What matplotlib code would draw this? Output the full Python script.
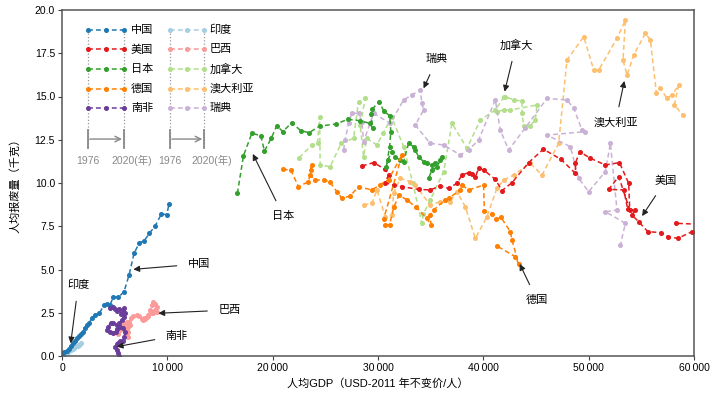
import matplotlib
matplotlib.use("Agg")
import matplotlib.pyplot as plt
from matplotlib.ticker import FuncFormatter

plt.rcParams['font.family'] = ['Liberation Sans', 'Noto Sans CJK SC', 'DejaVu Sans']

# ---------------- data (GDP per capita, kg per capita) ----------------
china_gdp = [100, 222, 443, 665, 855, 1013, 1203, 1393, 1583, 1773, 1963, 2185, 2407, 2597, 2818,
             3135, 3547, 3990, 4307, 4560, 4877, 5352, 5890, 6365, 6840, 7347, 7790, 8297, 8835,
             9437, 9943, 10165]
china_v = [0.15, 0.21, 0.31, 0.42, 0.58, 0.73, 0.89, 1.02, 1.16, 1.27, 1.41, 1.60, 1.79, 1.93, 2.18,
           2.37, 2.47, 2.95, 2.99, 2.95, 3.43, 3.39, 3.72, 4.68, 5.93, 6.55, 6.65, 7.09, 7.51,
           8.21, 8.17, 8.79]

india_gdp = [250, 330, 380, 420, 470, 520, 560, 600, 650, 700, 760, 820, 880, 950, 1020, 1100,
             1180, 1260, 1340, 1420, 1500, 1580, 1660, 1740, 1820]
india_v = [0.12, 0.14, 0.18, 0.16, 0.20, 0.22, 0.25, 0.24, 0.28, 0.30, 0.33, 0.35, 0.38, 0.40,
           0.42, 0.46, 0.48, 0.52, 0.55, 0.58, 0.60, 0.64, 0.66, 0.70, 0.74]

safrica_gdp = [5450, 5350, 5190, 5040, 5190, 5350, 5510, 5760, 5920, 5990, 5760, 5510, 5260, 5130,
               4880, 4560, 4310, 4400, 4620, 4880, 5190, 5450, 5670, 5890, 5990, 5890, 5760, 5570,
               5450, 5260, 5040, 4810, 4560]
safrica_v = [0.02, 0.15, 0.35, 0.50, 0.69, 0.77, 0.89, 0.89, 1.12, 1.41, 1.60, 1.70, 1.54, 1.41,
             1.31, 1.41, 1.50, 1.70, 1.93, 1.89, 1.79, 1.93, 2.08, 2.27, 2.50, 2.76, 2.66, 2.43,
             2.74, 2.62, 2.70, 2.81, 2.76]

brazil_gdp = [5350, 5510, 5670, 5830, 5990, 6140, 6300, 6460, 6140, 5990, 6300, 6240, 6080, 6400,
              6520, 6780, 7090, 7350, 7570, 7790, 8040, 8200, 8360, 8520, 8680, 8840, 8990, 8840,
              8990, 8680, 8520, 8200, 7890, 7660]
brazil_v = [1.27, 1.50, 1.70, 1.79, 1.89, 1.98, 1.70, 1.79, 1.60, 1.50, 1.41, 1.12, 1.35, 1.98,
            2.18, 2.31, 2.35, 2.31, 2.12, 2.18, 2.27, 2.37, 2.66, 2.95, 3.14, 3.01, 2.85, 2.66,
            2.56, 2.50, 2.47, 2.31, 2.12, 2.08]

japan_gdp = [16650, 17230, 18020, 18870, 19220, 19860, 20390, 20960, 21820, 22670, 23470, 24450,
             26030, 27110, 28310, 29200, 29510, 29320, 29420, 30120, 30530, 31100, 31220, 31100,
             30780, 30910, 31320, 31640, 32110, 32430, 32900, 33380, 33540, 33850, 34330, 34640,
             35120, 35440, 35910, 36070, 35590, 35120, 34800]
japan_v = [9.40, 11.58, 12.87, 12.74, 11.85, 12.58, 13.31, 12.97, 13.49, 13.02, 12.91, 13.29,
           13.41, 13.68, 13.60, 13.45, 13.16, 13.97, 14.26, 14.70, 14.18, 13.89, 12.97, 12.10,
           10.91, 11.33, 11.81, 11.48, 11.33, 11.23, 12.29, 12.10, 11.91, 11.52, 11.23, 11.14,
           11.04, 11.14, 11.33, 11.52, 10.91, 10.75, 10.27]

canada_gdp = [22520, 23720, 24260, 24450, 24510, 25460, 26500, 27680, 28150, 28790, 28310, 28630,
              28940, 29890, 30500, 31300, 32430, 33300, 34170, 34300, 34960, 36230, 37020, 38450,
              39710, 41140, 41930, 42090, 42880, 43670, 43670, 43830, 44400, 44940, 45090, 42560,
              41930, 41290]
canada_v = [11.46, 12.20, 12.29, 13.83, 11.04, 10.94, 12.30, 12.58, 14.70, 14.89, 13.35, 11.52,
            12.58, 12.20, 12.90, 13.80, 12.10, 10.00, 7.67, 8.20, 9.02, 10.65, 13.45, 12.00,
            13.64, 14.22, 14.95, 14.99, 14.80, 14.74, 14.03, 13.29, 13.29, 13.64, 14.51, 14.22,
            14.22, 14.12]

sweden_gdp = [26730, 26890, 27200, 27520, 28150, 28470, 28630, 29580, 31160, 32430, 33220, 34010,
              34170, 34330, 33540, 34960, 36230, 37810, 38600, 39550, 41140, 41610, 42400, 44000,
              46040, 47940, 48580, 49370, 49690, 46040, 48260, 49050, 50000, 51590, 52060, 52690,
              51590, 53490, 53010]
sweden_v = [11.91, 12.49, 13.45, 14.03, 14.03, 13.55, 12.39, 14.03, 13.45, 14.80, 15.09, 15.38,
            14.61, 14.22, 13.35, 12.29, 12.20, 11.62, 11.91, 12.49, 14.80, 13.06, 11.91, 13.20,
            14.89, 14.80, 14.32, 13.06, 12.97, 12.77, 12.10, 10.27, 9.50, 10.66, 12.29, 8.44,
            8.34, 7.67, 6.42]

usa_gdp = [28470, 29580, 30690, 31000, 30690, 31480, 32270, 33850, 34960, 35910, 36700, 37490,
           37970, 38600, 38920, 39240, 39550, 40030, 41140, 41770, 42720, 44300, 45700, 47370,
           48740, 48740, 49150, 50160, 51590, 52920, 53800, 53900, 52850, 51900, 53330, 53710,
           54440, 54120, 54750, 55610, 56870, 57510, 58460, 59820, 61000, 58330]
usa_v = [10.98, 11.18, 10.79, 10.46, 10.02, 9.88, 9.79, 9.63, 9.60, 9.83, 9.69, 9.98,
         10.46, 10.60, 10.54, 10.33, 10.85, 10.75, 10.21, 9.56, 10.02, 11.18, 11.95, 11.37,
         10.56, 11.14, 11.81, 11.43, 11.04, 11.18, 9.98, 8.44, 10.37, 9.63, 9.60, 8.48,
         8.44, 8.15, 7.76, 7.19, 7.13, 6.90, 6.80, 7.19, 7.60, 7.67]

germany_gdp = [20960, 21720, 22450, 23400, 23720, 23620, 23560, 24040, 24830, 25400, 26090, 26570,
               27360, 28150, 29420, 30200, 31000, 32270, 30530, 30690, 31100, 31500, 32000, 32800,
               33600, 34640, 35020, 34960, 35280, 36390, 36700, 37810, 37970, 38600, 40030, 40090,
               40820, 41230, 41670, 42560, 42720, 43350, 43040, 41290]
germany_v = [10.79, 10.75, 9.79, 10.08, 11.04, 10.75, 10.46, 10.17, 10.17, 10.08, 9.50, 9.11,
             9.25, 9.79, 9.60, 9.90, 10.20, 11.62, 7.90, 7.57, 7.60, 8.60, 9.30, 9.00,
             8.60, 7.96, 7.57, 8.15, 8.44, 9.02, 9.11, 9.60, 9.88, 9.60, 9.88, 8.40,
             8.19, 7.90, 8.02, 7.19, 6.71, 5.32, 5.74, 6.36]

australia_gdp = [28630, 29420, 29900, 30690, 31320, 31480, 32110, 33060, 33540, 34960, 35910, 36860,
                 37490, 38290, 39240, 40340, 41290, 41930, 42880, 44460, 45570, 47150, 47940, 49530,
                 50480, 50950, 52690, 53490, 53260, 53640, 54280, 55390, 55860, 56430, 56810, 57440,
                 57920, 58550, 58140, 58930]
australia_v = [8.73, 8.82, 9.60, 8.05, 8.15, 9.40, 10.27, 10.08, 9.88, 8.73, 8.92, 8.92,
               9.50, 8.63, 6.80, 8.05, 9.69, 10.17, 10.46, 11.14, 10.46, 12.29, 17.11, 18.46,
               16.53, 16.53, 18.36, 19.42, 17.11, 16.24, 17.40, 18.65, 18.27, 15.18, 15.47, 14.89,
               15.09, 15.66, 14.51, 13.93]

names_left = ['中国', '美国', '日本', '德国', '南非']
names_right = ['印度', '巴西', '加拿大', '澳大利亚', '瑞典']
colors_left = ['#1f78b4', '#e31a1c', '#33a02c', '#ff7f00', '#6a3d9a']
colors_right = ['#a6cee3', '#fb9a99', '#b2df8a', '#fdbf6f', '#cab2d6']
year_labels = ['1976', '2020(年)']

series_light = [(india_gdp, india_v, colors_right[0]), (brazil_gdp, brazil_v, colors_right[1]),
                (canada_gdp, canada_v, colors_right[2]), (australia_gdp, australia_v, colors_right[3]),
                (sweden_gdp, sweden_v, colors_right[4])]
series_dark = [(china_gdp, china_v, colors_left[0]), (usa_gdp, usa_v, colors_left[1]),
               (japan_gdp, japan_v, colors_left[2]), (germany_gdp, germany_v, colors_left[3]),
               (safrica_gdp, safrica_v, colors_left[4])]

# (label, text position, arrow tip)
annotations = [
    ('中国', (13000, 5.32), (6775, 5.01)),
    ('印度', (1550, 4.1), (825, 0.73)),
    ('巴西', (15900, 2.66), (9150, 2.47)),
    ('南非', (10900, 1.18), (5200, 0.54)),
    ('日本', (21030, 8.09), (18115, 11.68)),
    ('瑞典', (35600, 17.15), (34325, 15.47)),
    ('加拿大', (43100, 17.98), (42020, 15.28)),
    ('澳大利亚', (52540, 13.47), (53390, 15.9)),
    ('美国', (57300, 10.13), (55070, 8.09)),
    ('德国', (45100, 3.24), (43450, 5.32)),
]

# ---------------- figure ----------------
fig = plt.figure(figsize=(7.17, 3.97), dpi=100)
ax = fig.add_axes([62 / 717, 41 / 397, 632 / 717, 346 / 397])

dash = (3.2, 2.0)
for xs, ys, c in series_light + series_dark:
    ax.plot(xs, ys, color=c, lw=1.1, ls=(0, dash), marker='o', ms=2.6, mec=c, mfc=c)

ax.set_xlim(0, 60000)
ax.set_ylim(0, 20)
ax.set_xticks([0, 10000, 20000, 30000, 40000, 50000, 60000])
ax.set_yticks([0, 2.5, 5, 7.5, 10, 12.5, 15, 17.5, 20])
ax.xaxis.set_major_formatter(FuncFormatter(lambda v, p: '0' if v == 0 else f'{int(v)//1000}\u2009000'))
ax.yaxis.set_major_formatter(FuncFormatter(lambda v, p: f'{v:.1f}'))
ax.tick_params(labelsize=7.5, length=3, width=0.8, color='#444444', pad=2)
for s in ax.spines.values():
    s.set_color('#555555')
    s.set_linewidth(1.1)

ax.set_xlabel('人均GDP（USD-2011 年不变价/人）', fontsize=8, labelpad=4)
ax.set_ylabel('人均报废量（千克）', fontsize=8, labelpad=10)

# annotations
for lab, tpos, tip in annotations:
    ax.annotate(lab, xy=tip, xytext=tpos, fontsize=8, ha='center', va='center',
                arrowprops=dict(arrowstyle='-|>', color='#222222', lw=0.8,
                                mutation_scale=9, shrinkA=6, shrinkB=0))

# ---------------- custom legend ----------------
rows_y = [0.942, 0.886, 0.829, 0.773, 0.717]
cols = [(0.041, 0.098, 0.109, names_left, colors_left),
        (0.171, 0.225, 0.233, names_right, colors_right)]
T = ax.transAxes
for x0, x1, xt, names, cols_c in cols:
    ax.plot([x0, x0], [0.604, 0.942], transform=T, color='#999999', lw=0.9, ls=':', clip_on=False)
    ax.plot([x1, x1], [0.604, 0.942], transform=T, color='#999999', lw=0.9, ls=':', clip_on=False)
    ax.plot([x0, x0], [0.601, 0.653], transform=T, color='#888888', lw=1.3, clip_on=False)
    ax.plot([x1, x1], [0.601, 0.653], transform=T, color='#888888', lw=1.3, clip_on=False)
    ax.annotate('', xy=(x1 - 0.003, 0.627), xytext=(x0 + 0.003, 0.627), xycoords=T,
                arrowprops=dict(arrowstyle='->', color='#888888', lw=1.0, mutation_scale=10,
                                shrinkA=0, shrinkB=0))
    ax.text(x0, 0.564, year_labels[0], transform=T, fontsize=7.5, color='#888888',
            ha='center', va='center')
    ax.text(x1 + 0.012, 0.564, year_labels[1], transform=T, fontsize=7.5, color='#888888',
            ha='center', va='center')
    for y, n, c in zip(rows_y, names, cols_c):
        ax.plot([x0, (x0 + x1) / 2, x1], [y, y, y], transform=T, color=c, lw=1.1,
                ls=(0, dash), marker='o', ms=2.6, clip_on=False)
        ax.text(xt, y, n, transform=T, fontsize=8, ha='left', va='center')

fig.savefig('out.png', dpi=100)
